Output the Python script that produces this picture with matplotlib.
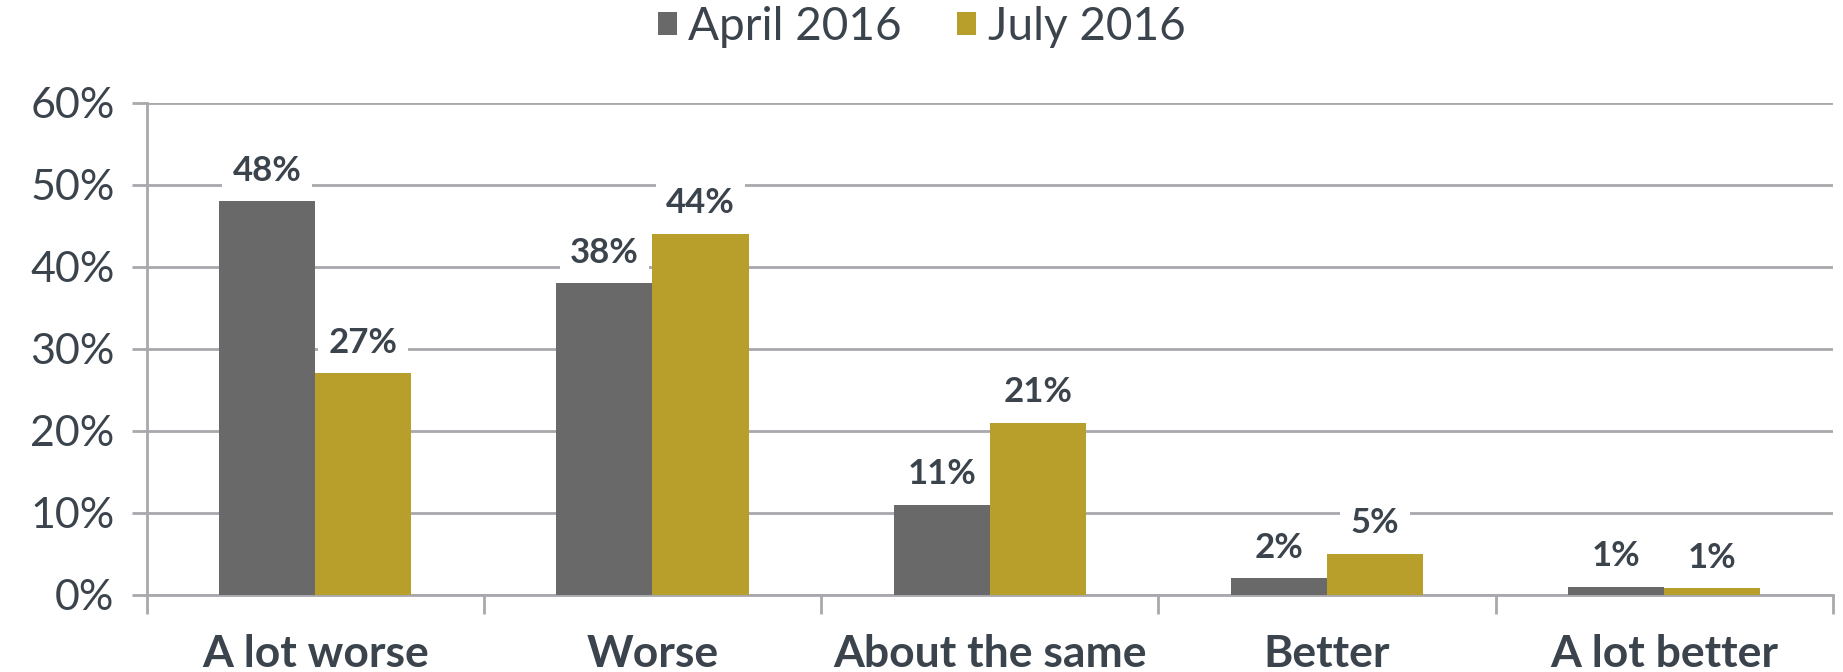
import matplotlib
matplotlib.use("Agg")
from matplotlib import pyplot as plt
import numpy as np

categories = ["A lot worse", "Worse", "About the same", "Better", "A lot better"]
april = [48, 38, 11, 2, 1]
july = [27, 44, 21, 5, 0.8]
april_labels = ["48%", "38%", "11%", "2%", "1%"]
july_labels = ["27%", "44%", "21%", "5%", "1%"]

plt.rcParams['font.family'] = ['Lato', 'DejaVu Sans']
text_col = '#3b444c'
grid_col = '#a8a8ad'
gray = '#696969'
gold = '#b89e2a'

fig = plt.figure(figsize=(18.43, 6.72), dpi=100)
ax = fig.add_axes([0.0795, 0.115, 0.915, 0.732])

x = np.arange(len(categories))
w = 0.285
b1 = ax.bar(x - w/2, april, w, color=gray, label='April 2016', zorder=3)
b2 = ax.bar(x + w/2, july, w, color=gold, label='July 2016', zorder=3)

# value labels with white box so the grid line is hidden behind them
for bars, labs in [(b1, april_labels), (b2, july_labels)]:
    for bar, lab in zip(bars, labs):
        ax.annotate(lab, (bar.get_x() + bar.get_width()/2, bar.get_height()),
                    xytext=(0, 22), textcoords='offset points', ha='center', va='center',
                    fontsize=25, fontweight='bold', color=text_col, zorder=4,
                    bbox=dict(boxstyle='square,pad=0.3', fc='white', ec='none'))

ax.set_ylim(0, 60)
ax.set_yticks(range(0, 61, 10))
ax.set_yticklabels([f"{v}%" for v in range(0, 61, 10)])
ax.yaxis.grid(True, color=grid_col, linewidth=2, zorder=0)
ax.set_xlim(-0.5, len(categories) - 0.5)
ax.set_xticks(np.arange(-0.5, len(categories)))
ax.set_xticklabels([])
ax.set_xticks(x, minor=True)
ax.set_xticklabels(categories, minor=True)

ax.tick_params(axis='y', colors=grid_col, labelcolor=text_col, labelsize=31,
               length=11, width=2, pad=12)
ax.tick_params(axis='x', which='major', colors=grid_col, length=14, width=2)
ax.tick_params(axis='x', which='minor', length=0, labelsize=32, labelcolor=text_col, pad=28)
for t in ax.get_xticklabels(minor=True):
    t.set_fontweight('bold')

for s in ['top', 'right']:
    ax.spines[s].set_visible(False)
ax.spines['left'].set_color(grid_col)
ax.spines['left'].set_linewidth(2)
ax.spines['bottom'].set_color(grid_col)
ax.spines['bottom'].set_linewidth(2)

fig.legend(loc='center', bbox_to_anchor=(0.5, 0.96), ncol=2, frameon=False,
           fontsize=33, labelcolor=text_col, handlelength=0.42, handleheight=0.42,
           handletextpad=0.25, columnspacing=1.2)

fig.savefig('out.png', dpi=100)
